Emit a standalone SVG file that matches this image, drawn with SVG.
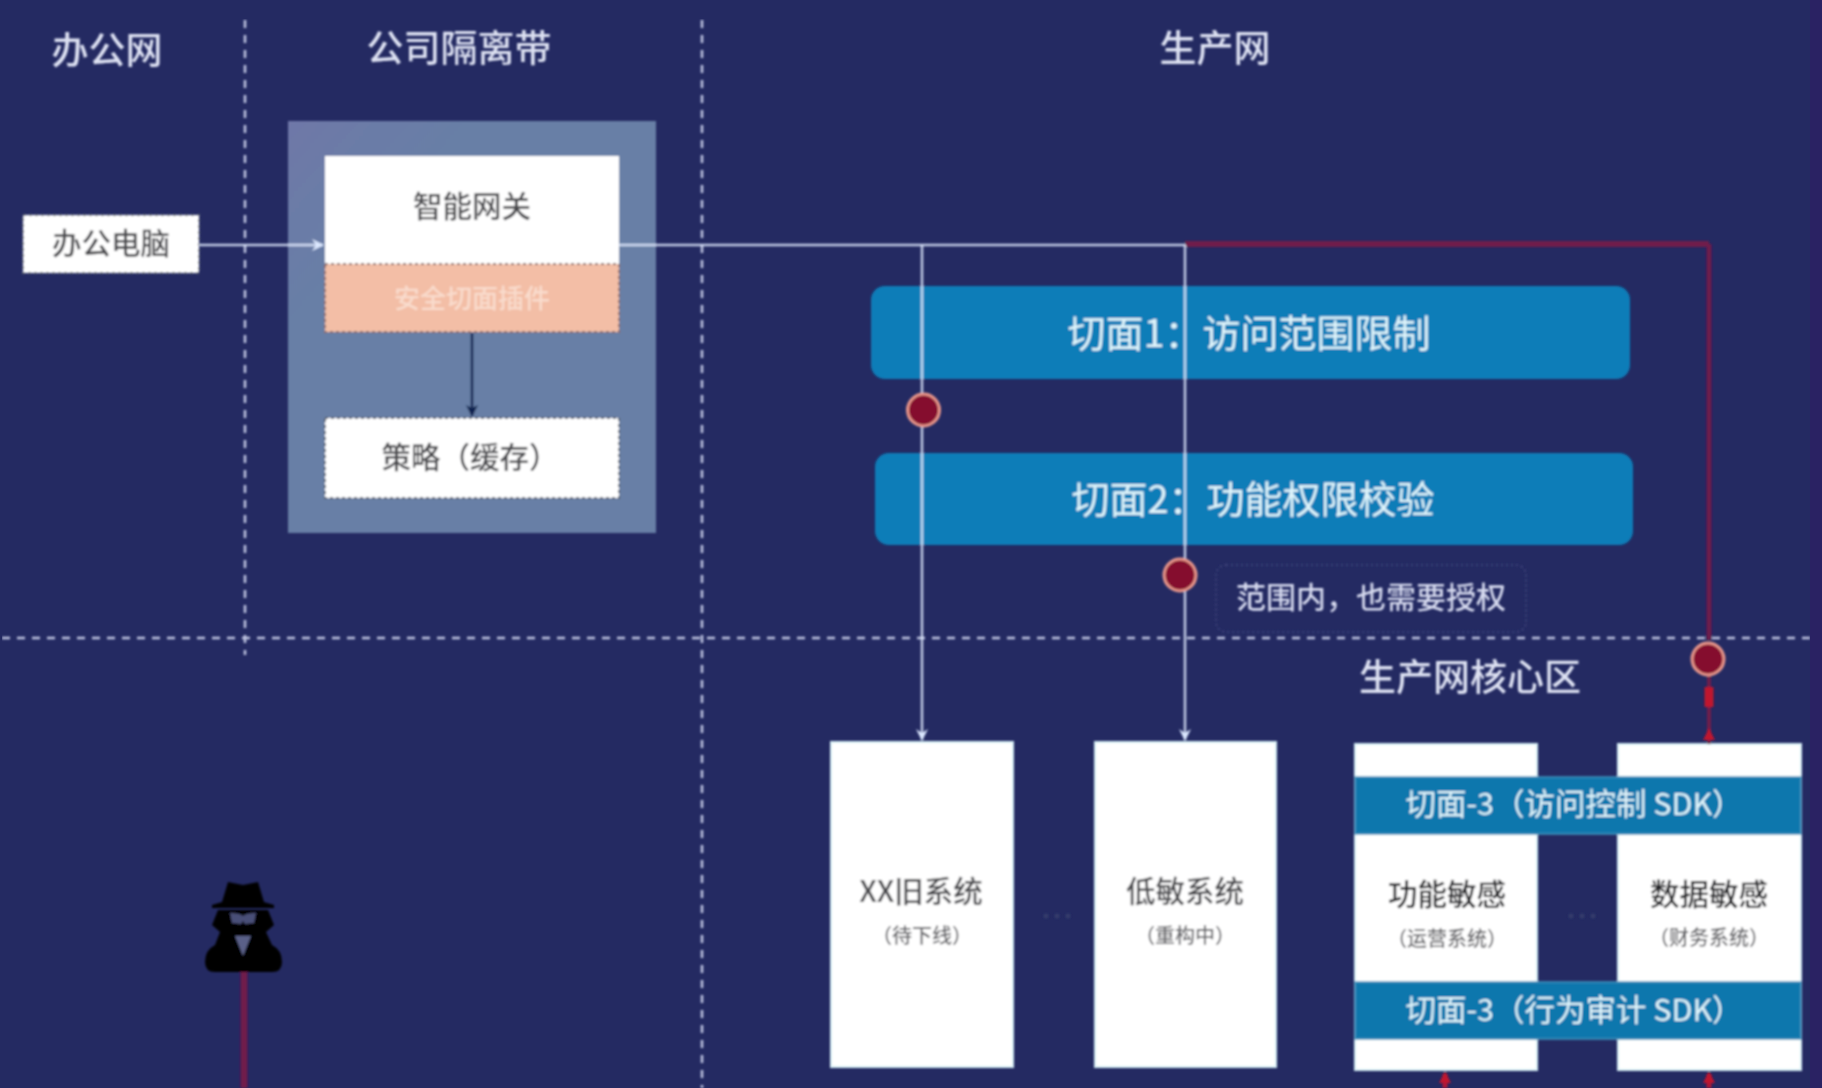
<svg xmlns="http://www.w3.org/2000/svg" width="1822" height="1088" viewBox="0 0 1822 1088">
  <defs>
    <filter id="soft" x="0" y="0" width="100%" height="100%" filterUnits="objectBoundingBox"><feGaussianBlur stdDeviation="0.9"/></filter>
    <linearGradient id="panel" x1="0" y1="0" x2="1" y2="1"><stop offset="0" stop-color="#6f78a8"/><stop offset="0.25" stop-color="#687fa6"/><stop offset="1" stop-color="#687fa6"/></linearGradient>
    <marker id="aw" markerUnits="userSpaceOnUse" markerWidth="14" markerHeight="14" refX="12" refY="7" orient="auto"><path d="M1 1 L13 7 L1 13 L5 7 Z" fill="#dce8ff"/></marker>
    <marker id="ad" markerUnits="userSpaceOnUse" markerWidth="14" markerHeight="14" refX="12" refY="7" orient="auto"><path d="M1 1 L13 7 L1 13 L4 7 Z" fill="#0b2450"/></marker>
    <marker id="ar" markerUnits="userSpaceOnUse" markerWidth="14" markerHeight="14" refX="10" refY="7" orient="auto"><path d="M1 1 L13 7 L1 13 Z" fill="#c0122f"/></marker>
  </defs>
  <style>
    text { font-family: "Noto Sans CJK SC", "Noto Sans", sans-serif; text-anchor: middle; dominant-baseline: central; }
    .title { font-size: 37px; fill: #dde1f2; font-weight: 500; }
    .dark { font-size: 29.5px; fill: #4a4a4e; font-weight: 500; }
    .strong { font-size: 29.5px; fill: #222226; font-weight: 500; }
    .sub { font-size: 20px; fill: #66666a; font-weight: 500; }
    .bar { font-size: 38px; fill: #dff4fb; }
    .band { font-size: 30.5px; fill: #dff4fb; }
    .box { fill: #ffffff; stroke: #d4eef4; stroke-width: 2; }
    .dashbox { fill: #ffffff; stroke: #59606f; stroke-width: 2; stroke-dasharray: 3 3; }
    .blue { fill: #0b7db8; }
    .flat { fill: #0f77ad; stroke: #3f93bd; stroke-width: 1.5; }
    .div { stroke: #c0c5e2; stroke-width: 2.5; stroke-dasharray: 8 7; fill: none; }
    .flow { stroke: #e2ebff; stroke-opacity: 0.82; stroke-width: 2.5; fill: none; }
    .red { stroke: #6f1c4c; fill: none; }
    .hit { fill: #85102f; stroke: #e8958a; stroke-width: 3; }
    .dots { fill: #343c6c; }
  </style>
  <rect width="1822" height="1088" fill="#242a62"/>
  <rect x="1810" width="12" height="1088" fill="#2a2263"/>
  <g filter="url(#soft)">
    <g id="dividers">
      <line class="div" x1="245" y1="20" x2="245" y2="655"/>
      <line class="div" x1="702" y1="20" x2="702" y2="1088"/>
      <line class="div" x1="2" y1="638" x2="1810" y2="638"/>
    </g>
    <g id="zone-office"><text class="title" x="107" y="48">办公网</text></g>
    <g id="zone-dmz"><text class="title" x="459" y="46">公司隔离带</text></g>
    <g id="zone-prod"><text class="title" x="1215" y="46">生产网</text></g>
    <g id="zone-core"><text class="title" x="1470" y="675">生产网核心区</text></g>

    <g id="dmz-panel"><rect x="288" y="121" width="368" height="412" fill="url(#panel)"/></g>
    <g id="office-pc"><rect class="dashbox" x="23" y="215" width="176" height="58"/><text class="dark" x="111" y="241">办公电脑</text></g>
    <g id="gateway"><rect x="325" y="156" width="294" height="108" fill="#ffffff"/><text class="dark" x="472" y="204">智能网关</text></g>
    <g id="plugin"><rect x="325" y="264" width="294" height="68" fill="#f3bea6" stroke="#8b6a68" stroke-width="2" stroke-dasharray="3 3"/><text x="472" y="296" font-size="26" font-weight="500" fill="#f9dccd">安全切面插件</text></g>
    <g id="policy"><rect class="dashbox" x="325" y="418" width="294" height="80"/><text class="dark" x="470" y="455">策略（缓存）</text></g>

    <g id="aspect-1"><rect class="blue" x="871" y="286" width="759" height="93" rx="14"/><text class="bar" x="1249" y="330">切面1：访问范围限制</text></g>
    <g id="aspect-2"><rect class="blue" x="875" y="453" width="758" height="92" rx="14"/><text class="bar" x="1253" y="496">切面2：功能权限校验</text></g>

    <g id="note"><rect x="1216" y="565" width="310" height="67" rx="10" fill="none" stroke="#444a80" stroke-width="1.5" stroke-dasharray="2 3"/><text x="1371" y="595" font-size="30" font-weight="500" fill="#d5d9ee">范围内，也需要授权</text></g>

    <g id="sys-old"><rect class="box" x="831" y="742" width="182" height="325"/><text class="dark" x="921" y="889">XX旧系统</text><text class="sub" x="922" y="934">（待下线）</text></g>
    <g id="sys-low"><rect class="box" x="1095" y="742" width="181" height="325"/><text class="dark" x="1185" y="889">低敏系统</text><text class="sub" x="1185" y="934">（重构中）</text></g>
    <g id="sys-func"><rect class="box" x="1355" y="744" width="182" height="326"/><text class="strong" x="1447" y="892">功能敏感</text><text class="sub" x="1447" y="937">（运营系统）</text></g>
    <g id="sys-data"><rect class="box" x="1618" y="744" width="183" height="326"/><text class="strong" x="1709" y="892">数据敏感</text><text class="sub" x="1709" y="936">（财务系统）</text></g>
    <g id="band-access"><rect class="flat" x="1355" y="777" width="446" height="57"/><text class="band" x="1574" y="802">切面-3（访问控制 SDK）</text></g>
    <g id="band-audit"><rect class="flat" x="1355" y="982" width="446" height="57"/><text class="band" x="1574" y="1008">切面-3（行为审计 SDK）</text></g>
    <g id="ellipsis-1"><circle class="dots" cx="1046" cy="916" r="2.5"/><circle class="dots" cx="1057" cy="916" r="2.5"/><circle class="dots" cx="1068" cy="916" r="2.5"/></g>
    <g id="ellipsis-2"><circle class="dots" cx="1571" cy="916" r="2.5"/><circle class="dots" cx="1582" cy="916" r="2.5"/><circle class="dots" cx="1593" cy="916" r="2.5"/></g>

    <g id="attacker" fill="#000000">
      <path d="M222 902 L228 882 L243 885 L258 882 L264 902 L274 905 L274 908 L212 908 L212 905 Z"/>
      <path d="M218 910 L268 910 L274 925 L266 932 L272 945 Q282 950 282 962 Q282 972 272 972 L215 972 Q205 972 205 962 Q205 950 215 945 L220 932 L212 925 Z"/>
      <path d="M230 913 Q240 913 243 916 Q246 913 256 913 L254 923 L245 924 L243 921 L241 924 L232 923 Z" fill="#4a4f78"/>
      <path d="M235 936 L251 936 L243 956 Z" fill="#5a6088"/>
    </g>

    <g id="connectors">
      <path class="red" stroke-width="6" d="M1185 244 L1709 244"/>
      <path class="red" stroke-width="5" d="M1709 244 L1709 640"/>
      <path class="red" stroke-width="4" d="M1709 676 L1709 744"/>
      <path d="M1709 687 L1709 707" stroke="#c0122f" stroke-width="9"/>
      <path d="M1709 740 L1709 731" stroke="#c0122f" stroke-width="4" marker-end="url(#ar)"/>
      <path class="red" stroke-width="7" d="M244 972 L244 1088" stroke="#7a2358"/>
      <path d="M1445 1088 L1445 1074" stroke="#b01235" stroke-width="5" marker-end="url(#ar)"/>
      <path d="M1709 1088 L1709 1074" stroke="#b01235" stroke-width="5" marker-end="url(#ar)"/>
      <path class="flow" d="M199 245 L323 245" marker-end="url(#aw)"/>
      <path class="flow" d="M619 245 L1185 245"/>
      <path class="flow" d="M922 245 L922 740" marker-end="url(#aw)"/>
      <path class="flow" d="M1185 245 L1185 740" marker-end="url(#aw)"/>
      <path d="M472 333 L472 416" stroke="#0b2450" stroke-width="2.5" fill="none" marker-end="url(#ad)"/>
      <circle class="hit" cx="923.5" cy="410" r="16"/>
      <circle class="hit" cx="1180" cy="575" r="16"/>
      <circle class="hit" cx="1708" cy="659" r="16"/>
    </g>
  </g>
</svg>
